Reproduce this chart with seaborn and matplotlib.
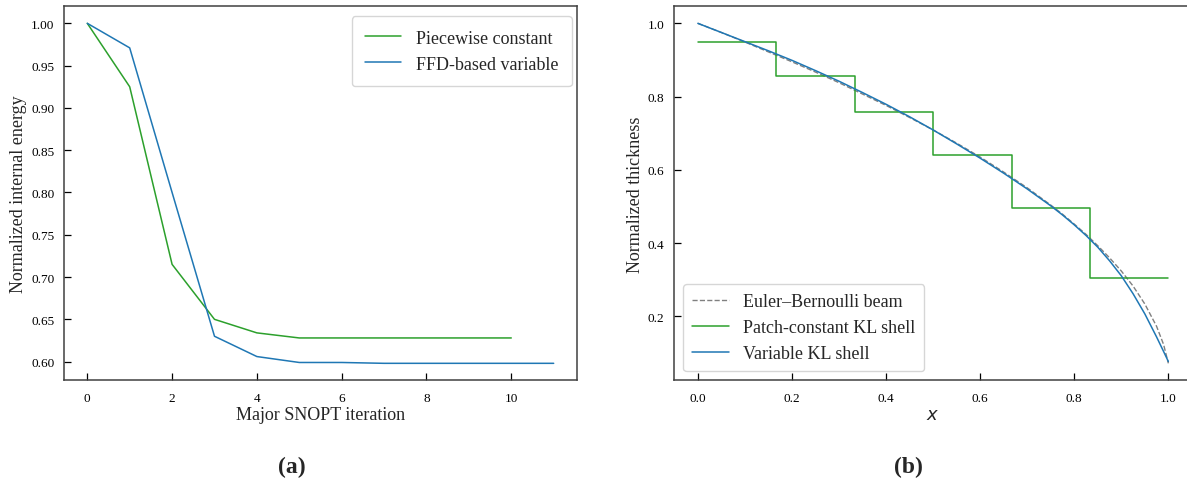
import matplotlib
matplotlib.use("Agg")
import matplotlib.pyplot as plt
import seaborn as sns
import pandas as pd

# (a) optimization history
iter_piecewise = [0, 1, 2, 3, 4, 5, 6, 7, 8, 9, 10]
energy_piecewise = [1.000, 0.925, 0.715, 0.650, 0.634, 0.628, 0.628, 0.628, 0.628, 0.628, 0.628]
iter_ffd = [0, 1, 2, 3, 4, 5, 6, 7, 8, 9, 10, 11]
energy_ffd = [1.000, 0.971, 0.800, 0.630, 0.606, 0.599, 0.599, 0.598, 0.598, 0.598, 0.598, 0.598]

# (b) thickness distributions along the span
x_pos = [0.0, 0.05, 0.10, 0.15, 0.20, 0.25, 0.30, 0.35, 0.40, 0.45, 0.50, 0.55,
         0.60, 0.65, 0.70, 0.75, 0.775, 0.80, 0.825, 0.85, 0.875, 0.90, 0.925,
         0.95, 0.975, 0.99, 1.0]
thick_beam = [1.000, 0.975, 0.949, 0.922, 0.895, 0.867, 0.838, 0.807, 0.776, 0.743,
              0.709, 0.673, 0.635, 0.594, 0.551, 0.504, 0.479, 0.452, 0.424, 0.393,
              0.360, 0.324, 0.283, 0.234, 0.173, 0.123, 0.072]
thick_variable = [1.000, 0.975, 0.950, 0.925, 0.899, 0.871, 0.842, 0.811, 0.779, 0.745,
                  0.709, 0.671, 0.632, 0.591, 0.548, 0.502, 0.477, 0.450, 0.421, 0.389,
                  0.352, 0.311, 0.262, 0.207, 0.144, 0.104, 0.077]
patch_edges = [0.0, 1 / 6, 2 / 6, 3 / 6, 4 / 6, 5 / 6, 1.0]
patch_thick = [0.948, 0.857, 0.757, 0.641, 0.497, 0.304]

GREEN = "#2ca02c"
BLUE = "#1f77b4"

sns.set_theme(style="ticks")
plt.rcParams.update({
    "font.family": ["Liberation Serif", "DejaVu Serif"],
    "mathtext.fontset": "dejavusans",
    "axes.edgecolor": "#404040",
    "axes.linewidth": 1.1,
    "xtick.direction": "in",
    "ytick.direction": "in",
    "xtick.major.size": 5,
    "ytick.major.size": 5,
    "xtick.major.width": 0.9,
    "ytick.major.width": 0.9,
    "xtick.major.pad": 8.5,
    "ytick.major.pad": 7,
    "xtick.color": "black",
    "ytick.color": "black",
    "xtick.labelsize": 9.5,
    "ytick.labelsize": 9.5,
    "axes.labelsize": 13,
    "legend.fontsize": 13,
})

fig = plt.figure(figsize=(11.87, 4.89), dpi=100)
ax_a = fig.add_axes([0.0539, 0.2202, 0.4322, 0.7648])
ax_b = fig.add_axes([0.5681, 0.2202, 0.4360, 0.7648])

# ---- (a)
df_pw = pd.DataFrame({"it": iter_piecewise, "e": energy_piecewise})
df_ffd = pd.DataFrame({"it": iter_ffd, "e": energy_ffd})
sns.lineplot(data=df_pw, x="it", y="e", ax=ax_a, color=GREEN, lw=1.1,
             label="Piecewise constant")
sns.lineplot(data=df_ffd, x="it", y="e", ax=ax_a, color=BLUE, lw=1.1,
             label="FFD-based variable")
ax_a.set_xlabel("Major SNOPT iteration", labelpad=1.5)
ax_a.set_ylabel("Normalized internal energy", labelpad=3)
ax_a.set_xticks([0, 2, 4, 6, 8, 10])
ax_a.set_yticks([0.60, 0.65, 0.70, 0.75, 0.80, 0.85, 0.90, 0.95, 1.00])
ax_a.yaxis.set_major_formatter(matplotlib.ticker.FormatStrFormatter("%.2f"))
ax_a.margins(x=0.05, y=0.05)
ax_a.legend(loc="upper right", bbox_to_anchor=(0.990, 0.974), borderaxespad=0,
            frameon=True, fancybox=True, edgecolor="#cccccc",
            borderpad=0.75, handlelength=2.0)

# ---- (b)
df_b = pd.DataFrame({"x": x_pos, "beam": thick_beam, "var": thick_variable})
df_patch = pd.DataFrame({"x": patch_edges, "t": patch_thick + [patch_thick[-1]]})
sns.lineplot(data=df_b, x="x", y="beam", ax=ax_b, color="gray", lw=1.0,
             linestyle="--", label="Euler\u2013Bernoulli beam")
sns.lineplot(data=df_patch, x="x", y="t", ax=ax_b, color=GREEN, lw=1.1,
             drawstyle="steps-post", label="Patch-constant KL shell")
sns.lineplot(data=df_b, x="x", y="var", ax=ax_b, color=BLUE, lw=1.1,
             label="Variable KL shell")
ax_b.set_xlabel("$x$", labelpad=1.5)
ax_b.set_ylabel("Normalized thickness", labelpad=3)
ax_b.set_xticks([0.0, 0.2, 0.4, 0.6, 0.8, 1.0])
ax_b.set_yticks([0.2, 0.4, 0.6, 0.8, 1.0])
ax_b.margins(x=0.05, y=0.05)
ax_b.legend(loc="lower left", frameon=True, fancybox=True, edgecolor="#cccccc",
            borderpad=0.5, handlelength=2.0)

fig.text(292 / 1187, 1 - 467 / 489, "(a)", ha="center", va="center",
         fontsize=17, fontweight="bold")
fig.text(908 / 1187, 1 - 467 / 489, "(b)", ha="center", va="center",
         fontsize=17, fontweight="bold")

fig.savefig("out.png", dpi=100)
